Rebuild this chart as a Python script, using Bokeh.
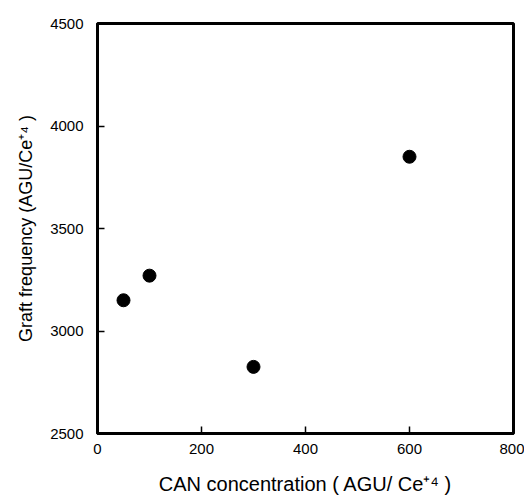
from bokeh.plotting import figure
from bokeh.models import FixedTicker, Range1d
from bokeh.embed import file_html
from bokeh.resources import INLINE

can_conc = [50, 100, 300, 600]
graft_freq = [3150, 3270, 2825, 3850]
x_ticks = [0, 200, 400, 600, 800]
y_ticks = [2500, 3000, 3500, 4000, 4500]

p = figure(width=524, height=500, output_backend="svg", toolbar_location=None,
           x_range=Range1d(0, 800), y_range=Range1d(2500, 4500),
           min_border_left=97, min_border_right=11, min_border_top=23, min_border_bottom=67)
p.grid.visible = False
p.outline_line_color = "black"
p.outline_line_width = 3
p.background_fill_color = "white"
p.border_fill_color = "white"

p.scatter(can_conc, graft_freq, size=13, color="black")

font = "Liberation Sans"
for ax, ticks in ((p.xaxis[0], x_ticks), (p.yaxis[0], y_ticks)):
    ax.ticker = FixedTicker(ticks=ticks)
    ax.minor_tick_line_color = None
    ax.major_tick_in = 7
    ax.major_tick_out = 0
    ax.major_tick_line_width = 1.5
    ax.axis_line_width = 3
    ax.major_label_text_font = font
    ax.major_label_text_font_size = "15px"
    ax.major_label_text_color = "black"
    ax.axis_label_text_font = font
    ax.axis_label_text_font_style = "normal"
    ax.axis_label_text_color = "black"

p.xaxis.axis_label = "CAN concentration ( AGU/ Ce\u207a\u2074 )"
p.yaxis.axis_label = "Graft frequency (AGU/Ce\u207a\u2074 )"
p.xaxis.axis_label_text_font_size = "20px"
p.yaxis.axis_label_text_font_size = "18px"
p.xaxis.major_label_standoff = 10
p.yaxis.major_label_standoff = 14
p.xaxis.axis_label_standoff = 16
p.yaxis.axis_label_standoff = 11

open("out.html", "w").write(file_html(p, INLINE))
